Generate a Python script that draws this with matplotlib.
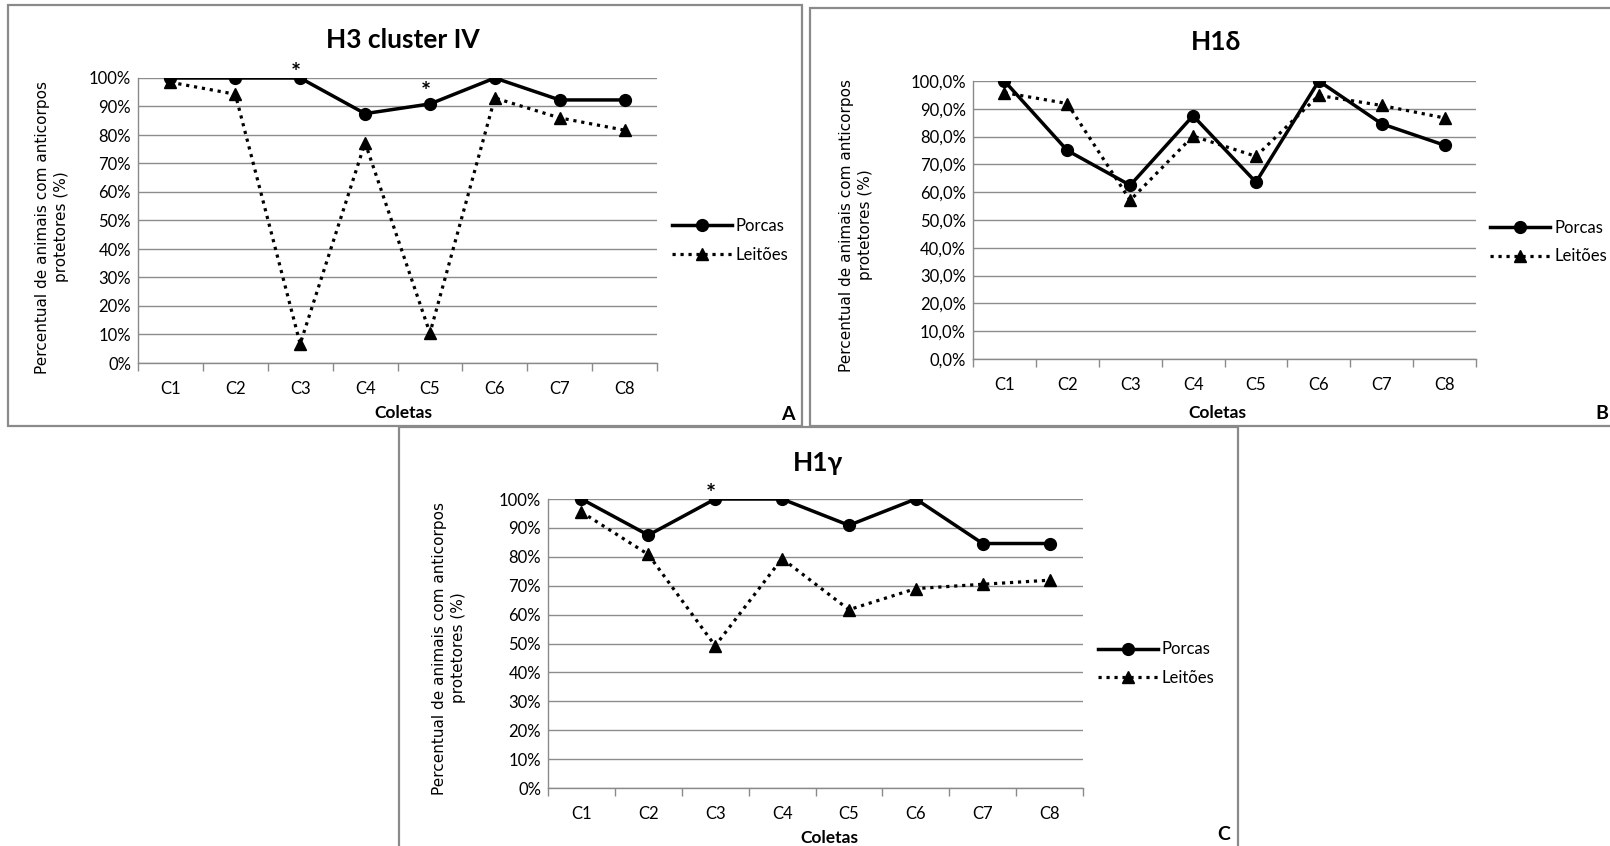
import matplotlib as mpl
import matplotlib.pyplot as plt
from matplotlib.patches import Rectangle
from matplotlib.ticker import FixedLocator, NullFormatter

W, H = 1610, 846
dpi = 100

coletas = ['C1', 'C2', 'C3', 'C4', 'C5', 'C6', 'C7', 'C8']

# H3 cluster IV
porcas_a = [100, 100, 100, 87.5, 90.9, 100, 92.3, 92.3]
leitoes_a = [98.5, 94.3, 6.7, 77.3, 10.5, 93.0, 86.0, 81.7]
# H1delta
porcas_b = [100, 75.0, 62.5, 87.5, 63.6, 100, 84.6, 76.9]
leitoes_b = [95.8, 91.9, 57.1, 80.2, 72.9, 94.8, 91.2, 86.7]
# H1gamma
porcas_c = [100, 87.5, 100, 100, 90.9, 100, 84.6, 84.6]
leitoes_c = [95.5, 80.8, 49.2, 79.4, 61.7, 69.0, 70.5, 71.9]

yticks = [0, 10, 20, 30, 40, 50, 60, 70, 80, 90, 100]

TXT = ['Lato', 'DejaVu Sans']
mpl.rcParams['font.family'] = TXT

fig = plt.figure(figsize=(W / dpi, H / dpi), dpi=dpi)


def fx(px):
    return px / W


def fy(py):
    return 1 - py / H


def frame(x0, y0, x1, y1):
    fig.patches.append(Rectangle((fx(x0), fy(y1)), fx(x1 - x0), (y1 - y0) / H,
                                 transform=fig.transFigure, fill=False,
                                 edgecolor='#8a8a8a', linewidth=1.6))


def panel(box, porcas, leitoes, fmt, title, tpos, cpos, ypos, letter, lpos,
          stars, leg_y, letter_ha='left'):
    l, t, r, b = box
    ax = fig.add_axes([fx(l), fy(b), fx(r - l), (b - t) / H])
    x = list(range(1, 9))
    ax.plot(x, porcas, color='black', linewidth=2.5, marker='o',
            markersize=8.5, label='Porcas', zorder=4)
    ax.plot(x, leitoes, color='black', linewidth=2.3, linestyle=(0, (1, 1.5)),
            marker='^', markersize=8.5, label='Leitões', zorder=3)
    ax.set_xlim(0.5, 8.5)
    ax.set_ylim(0, 100)
    ax.set_yticks(yticks)
    ax.set_yticklabels([fmt.format(v) for v in yticks])
    ax.xaxis.set_major_locator(FixedLocator(x))
    ax.set_xticklabels(coletas)
    ax.xaxis.set_minor_locator(FixedLocator([i + 0.5 for i in range(0, 9)]))
    ax.xaxis.set_minor_formatter(NullFormatter())
    ax.tick_params(axis='x', which='major', length=0, pad=13, labelsize=12)
    ax.tick_params(axis='x', which='minor', length=6, width=1, color='#8a8a8a',
                   direction='out')
    ax.tick_params(axis='y', length=0, pad=5, labelsize=12)
    ax.grid(axis='y', color='#8c8c8c', linewidth=1)
    ax.set_axisbelow(True)
    for s in ['top', 'right']:
        ax.spines[s].set_visible(False)
    for s in ['left', 'bottom']:
        ax.spines[s].set_color('#8a8a8a')
        ax.spines[s].set_linewidth(1)
    for i, dy in stars:
        ax.annotate('*', (i, porcas[i - 1]), xytext=(-3, dy),
                    textcoords='offset points', ha='center', va='center',
                    fontsize=17, fontweight='bold')
    ax.legend(loc='center left', bbox_to_anchor=(1.012, leg_y), frameon=False,
              handlelength=3.6, handletextpad=0.25, labelspacing=0.75,
              borderpad=0, fontsize=12)
    fig.text(fx(tpos[0]), fy(tpos[1]), title, ha='center', va='center',
             fontsize=19, fontweight='bold')
    fig.text(fx(cpos[0]), fy(cpos[1]), 'Coletas', ha='center', va='center',
             fontsize=12.5, fontweight='bold')
    fig.text(fx(ypos[0]), fy(ypos[1]),
             'Percentual de animais com anticorpos\nprotetores (%)',
             ha='center', va='center', rotation=90, fontsize=11,
             family='DejaVu Sans', linespacing=1.4)
    fig.text(fx(lpos[0]), fy(lpos[1]), letter, ha=letter_ha, va='center',
             fontsize=14, fontweight='bold')
    return ax


frame(8, 5, 802, 426)
frame(810, 8, 1620, 426)
frame(399, 427, 1238, 852)

panel((138, 78, 657, 363), porcas_a, leitoes_a, '{}%', 'H3 cluster IV',
      (403, 40), (403, 413), (52, 227), 'A', (781, 414),
      [(3, 3), (5, 8)], 0.43)
panel((973, 81, 1476, 359), porcas_b, leitoes_b, '{},0%', 'H1δ',
      (1216, 42), (1217, 413), (856, 225), 'B', (1608, 413),
      [], 0.42, 'right')
panel((548, 499, 1083, 788), porcas_c, leitoes_c, '{}%', 'H1γ',
      (818, 463), (829, 838), (449, 648), 'C', (1217, 834),
      [(3, 3)], 0.43)

fig.savefig('out.png', dpi=dpi)
